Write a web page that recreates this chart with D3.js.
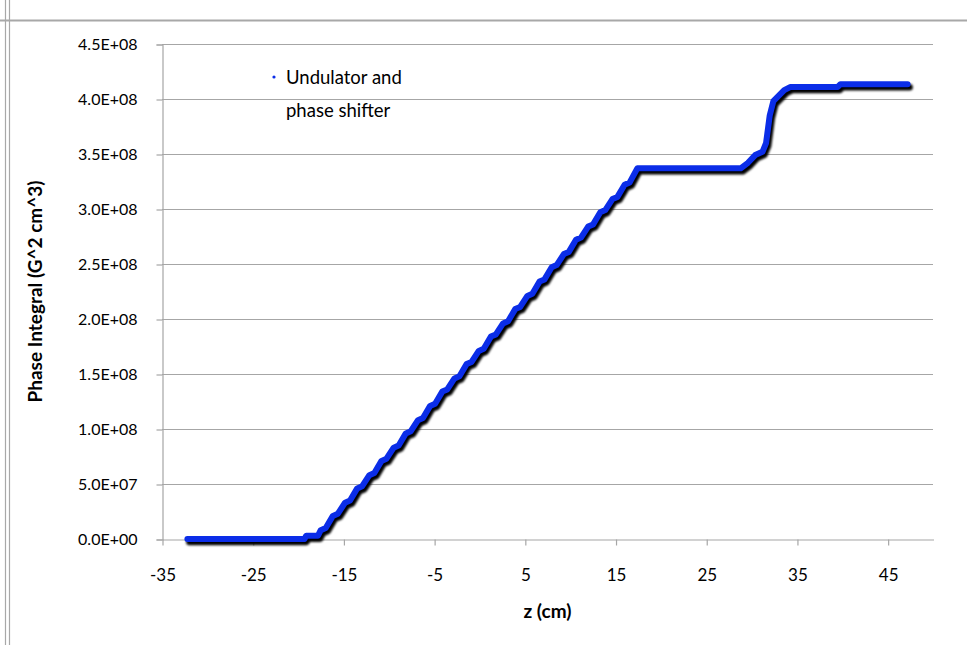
<!DOCTYPE html>
<html>
<head>
<meta charset="utf-8">
<script src="https://d3js.org/d3.v7.min.js"></script>
<style>
  html, body { margin: 0; padding: 0; background: #ffffff; }
  svg { display: block; }
  text { font-family: Lato, "Open Sans", sans-serif; fill: #000000; }
</style>
</head>
<body>
<svg id="sketchbook"></svg>
<script>
// z positions (cm)
let zValues = [
    -32.2, -19.3, -19.1, -17.8,
    -17.5, -16.95, -16.16, -15.61, -14.82, -14.27, -13.48, -12.93,
    -12.14, -11.59, -10.80, -10.25, -9.46, -8.91, -8.12, -7.57,
    -6.78, -6.23, -5.44, -4.89, -4.10, -3.55, -2.76, -2.21,
    -1.42, -0.87, -0.08, 0.47, 1.26, 1.81, 2.60, 3.15,
    3.94, 4.49, 5.28, 5.83, 6.62, 7.17, 7.96, 8.51,
    9.30, 9.85, 10.64, 11.19, 11.98, 12.53, 13.32, 13.87,
    14.66, 15.21, 16.00, 16.55, 17.4,
    28.8, 29.6, 30.4, 31.2, 31.6, 32.0, 32.4, 33.0, 33.6, 34.3,
    39.5, 39.8, 47.2
];
// phase integral (units of 1E8 G^2 cm^3)
let phaseValues = [
    0.00, 0.00, 0.03, 0.03,
    0.08, 0.10, 0.21, 0.23, 0.33, 0.35, 0.46, 0.48,
    0.58, 0.60, 0.71, 0.73, 0.83, 0.85, 0.96, 0.98,
    1.08, 1.10, 1.21, 1.23, 1.34, 1.36, 1.46, 1.48,
    1.59, 1.61, 1.71, 1.73, 1.84, 1.86, 1.96, 1.98,
    2.09, 2.11, 2.21, 2.23, 2.34, 2.36, 2.47, 2.49,
    2.59, 2.61, 2.72, 2.74, 2.84, 2.86, 2.97, 2.99,
    3.09, 3.11, 3.22, 3.24, 3.37,
    3.37, 3.42, 3.49, 3.52, 3.60, 3.85, 3.98, 4.03, 4.08, 4.11,
    4.11, 4.135, 4.135
];
let xTicks = [-35, -25, -15, -5, 5, 15, 25, 35, 45];
let yTicks = [0, 0.5e8, 1.0e8, 1.5e8, 2.0e8, 2.5e8, 3.0e8, 3.5e8, 4.0e8, 4.5e8];
let yTickLabels = ['0.0E+00', '5.0E+07', '1.0E+08', '1.5E+08', '2.0E+08',
                   '2.5E+08', '3.0E+08', '3.5E+08', '4.0E+08', '4.5E+08'];
let seriesName = ['Undulator and', 'phase shifter'];

function makeSvg () {
    let w = 967;
    let h = 645;
    let svg = d3.select('#sketchbook')
        .attr('width', w)
        .attr('height', h);

    let defs = svg.append('defs');
    defs.append('filter')
        .attr('id', 'blur')
        .attr('x', '-5%').attr('y', '-5%')
        .attr('width', '110%').attr('height', '110%')
        .append('feGaussianBlur')
        .attr('stdDeviation', 1.0);

    return svg;
}
function drawFrame (svg) {
    // window borders around the chart
    let frame = svg.append('g').attr('class', 'frame');
    frame.append('line')
        .attr('x1', 0).attr('x2', 967).attr('y1', 20.5).attr('y2', 20.5)
        .attr('stroke', '#a8a8a8').attr('stroke-width', 2);
    [5.5, 9.5].forEach((x) => {
        frame.append('line')
            .attr('x1', x).attr('x2', x).attr('y1', 0).attr('y2', 645)
            .attr('stroke', '#a8a8a8').attr('stroke-width', 1.2);
    });
}
function drawChart (svg) {
    let left = 162, right = 933, top = 44, bottom = 539;
    let fontSize = 16;

    let x = d3.scaleLinear().domain([-35, 50]).range([left, right]);
    let y = d3.scaleLinear().domain([0, 4.5e8]).range([bottom, top]);

    let grid = svg.append('g').attr('class', 'grid');
    grid.selectAll('line.grid')
        .data(yTicks.slice(1))
        .enter()
        .append('line')
        .attr('class', 'grid')
        .attr('x1', left)
        .attr('x2', right)
        .attr('y1', (d) => { return Math.round(y(d)) + 0.5; })
        .attr('y2', (d) => { return Math.round(y(d)) + 0.5; })
        .attr('stroke', '#a6a6a6')
        .attr('stroke-width', 1.2);

    let yAxis = d3.axisLeft(y)
        .tickValues(yTicks)
        .tickFormat((d, i) => { return yTickLabels[i]; })
        .tickSize(6)
        .tickPadding(19);
    let gy = svg.append('g')
        .attr('transform', 'translate(' + (left + 0.5) + ',0.5)')
        .call(yAxis);
    gy.select('.domain').attr('stroke', '#a6a6a6').attr('stroke-width', 1.2);
    gy.selectAll('.tick line').attr('stroke', '#a6a6a6').attr('stroke-width', 1.2);
    gy.selectAll('.tick text')
        .attr('font-size', fontSize)
        .style('font-family', 'Lato, sans-serif')
        .attr('fill', '#000');

    let xAxis = d3.axisBottom(x)
        .tickValues(xTicks)
        .tickFormat((d) => { return String(d); })
        .tickSizeInner(6)
        .tickSizeOuter(0)
        .tickPadding(23);
    let gx = svg.append('g')
        .attr('transform', 'translate(0.5,' + (bottom + 0.5) + ')')
        .call(xAxis);
    gx.select('.domain').attr('stroke', '#a6a6a6').attr('stroke-width', 1.2);
    gx.selectAll('.tick line').attr('stroke', '#a6a6a6').attr('stroke-width', 1.2);
    gx.selectAll('.tick text')
        .attr('font-size', fontSize + 1)
        .style('font-family', 'Lato, sans-serif')
        .attr('fill', '#000');

    // axis titles
    svg.append('text')
        .attr('x', (left + right) / 2)
        .attr('y', 618)
        .attr('text-anchor', 'middle')
        .attr('font-size', 19)
        .attr('font-weight', 'bold')
        .text('z (cm)');
    svg.append('text')
        .attr('transform', 'translate(42,' + ((top + bottom) / 2) + ') rotate(-90)')
        .attr('text-anchor', 'middle')
        .attr('font-size', 19)
        .attr('font-weight', 'bold')
        .text('Phase Integral (G^2 cm^3)');

    // the series
    let points = zValues.map((z, i) => { return { z: z, v: phaseValues[i] * 1e8 }; });
    let line = d3.line()
        .x((d) => { return x(d.z); })
        .y((d) => { return y(d.v); });

    svg.append('path')
        .datum(points)
        .attr('class', 'shadow')
        .attr('d', line)
        .attr('transform', 'translate(2,3)')
        .attr('fill', 'none')
        .attr('stroke', '#000')
        .attr('stroke-width', 6.5)
        .attr('stroke-linecap', 'round')
        .attr('stroke-linejoin', 'round')
        .attr('filter', 'url(#blur)');
    svg.append('path')
        .datum(points)
        .attr('class', 'series')
        .attr('d', line)
        .attr('fill', 'none')
        .attr('stroke', '#0b2de8')
        .attr('stroke-width', 6)
        .attr('stroke-linecap', 'round')
        .attr('stroke-linejoin', 'round');

    // legend
    let legend = svg.append('g').attr('class', 'legend');
    legend.append('circle')
        .attr('cx', 274).attr('cy', 77).attr('r', 1.6)
        .attr('fill', '#0b2de8');
    legend.selectAll('text')
        .data(seriesName)
        .enter()
        .append('text')
        .attr('x', 286)
        .attr('y', (d, i) => { return 84 + i * 33; })
        .attr('font-size', 18.5)
        .text((d) => { return d; });
}

let svg = makeSvg();
drawFrame(svg);
drawChart(svg);
</script>
</body>
</html>
